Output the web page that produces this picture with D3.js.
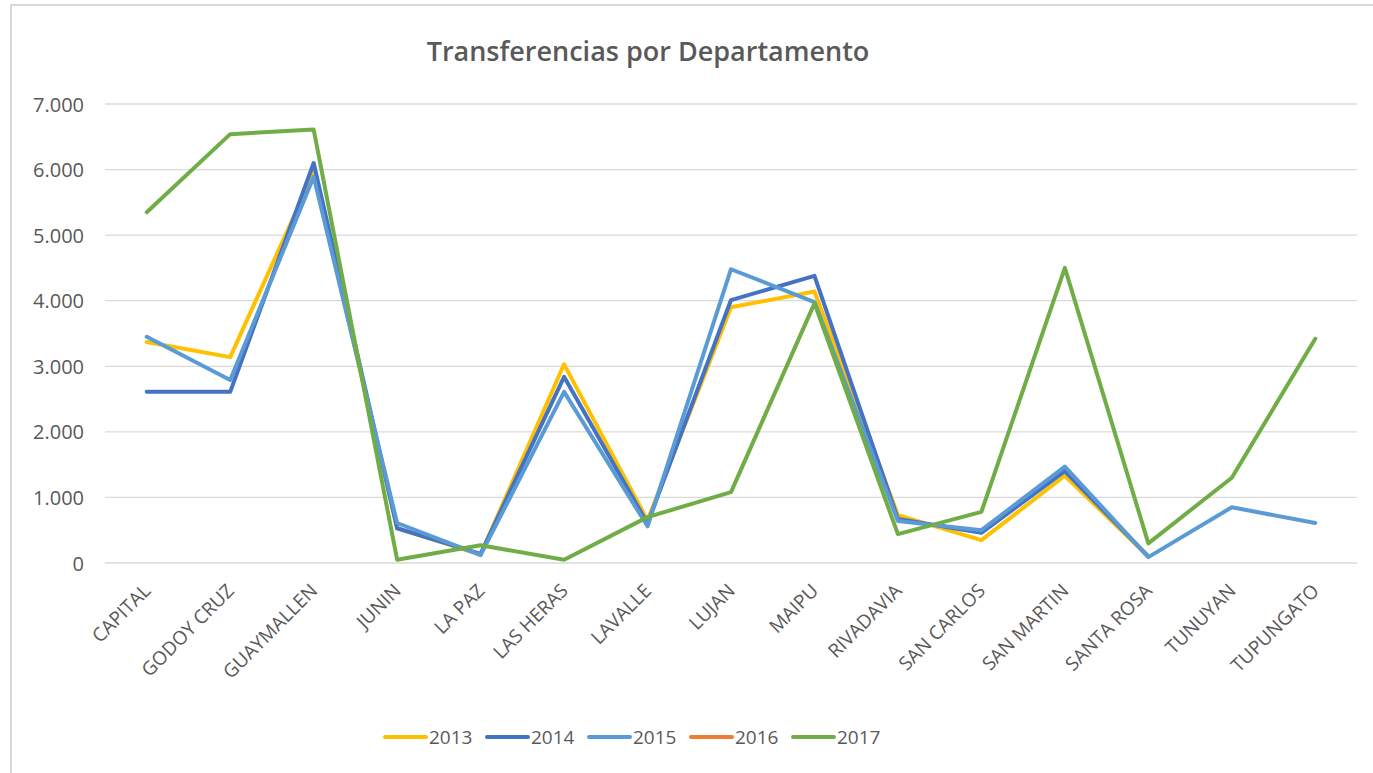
<!DOCTYPE html>
<html>
<head>
<meta charset="utf-8">
<script src="https://cdn.jsdelivr.net/npm/d3@7"></script>
<style>
  body { margin: 0; background: #fff; }
  text { font-family: "Open Sans", "Noto Sans", sans-serif; fill: #595959; }
</style>
</head>
<body>
<div id="chart"></div>
<script>
// data
const departamentos = ["CAPITAL", "GODOY CRUZ", "GUAYMALLEN", "JUNIN", "LA PAZ", "LAS HERAS", "LAVALLE",
    "LUJAN", "MAIPU", "RIVADAVIA", "SAN CARLOS", "SAN MARTIN", "SANTA ROSA", "TUNUYAN", "TUPUNGATO"];
const years = ["2013", "2014", "2015", "2016", "2017"];
const v2013 = [3370, 3140, 5950, 530, 130, 3030, 650, 3900, 4140, 730, 350, 1330, 100, null, null];
const v2014 = [2610, 2610, 6100, 530, 140, 2840, 600, 4010, 4380, 670, 460, 1400, 100, null, null];
const v2015 = [3450, 2790, 5890, 610, 120, 2610, 560, 4480, 3980, 640, 500, 1470, 90, 850, 610];
const v2016 = [null, null, null, null, null, null, null, null, null, null, null, null, null, null, null];
const v2017 = [5350, 6540, 6610, 50, 270, 50, 700, 1080, 3960, 440, 780, 4500, 300, 1300, 3420];
const yTicks = [0, 1000, 2000, 3000, 4000, 5000, 6000, 7000];
const colors = ["#FFC000", "#4472C4", "#5B9BD5", "#ED7D31", "#70AD47"];

const series = [v2013, v2014, v2015, v2016, v2017].map((vals, i) => ({ year: years[i], values: vals, color: colors[i] }));

const width = 1373, height = 773;

const svg = d3.select("#chart")
    .append("svg")
    .attr("width", width)
    .attr("height", height);

// chart frame
svg.append("rect")
    .attr("x", 11).attr("y", 5)
    .attr("width", 1400).attr("height", 800)
    .attr("fill", "#fff")
    .attr("stroke", "#d9d9d9")
    .attr("stroke-width", 2);

svg.append("text")
    .attr("x", 648).attr("y", 61)
    .attr("text-anchor", "middle")
    .style("font-size", "27px")
    .style("font-weight", 600)
    .text("Transferencias por Departamento");

const x = d3.scalePoint()
    .domain(departamentos)
    .range([105, 1357])
    .padding(0.5);

const y = d3.scaleLinear()
    .domain([0, 7000])
    .range([563, 104]);

const locale = d3.formatLocale({ decimal: ",", thousands: ".", grouping: [3], currency: ["$", ""] });
const fmt = locale.format(",d");

// gridlines
svg.append("g")
    .attr("class", "grid")
    .selectAll("line")
    .data(yTicks)
    .join("line")
    .attr("x1", 105).attr("x2", 1357)
    .attr("y1", d => y(d)).attr("y2", d => y(d))
    .attr("stroke", "#d9d9d9")
    .attr("stroke-width", 1.3);

// y axis
const yAxis = svg.append("g")
    .attr("transform", "translate(84,0)")
    .call(d3.axisLeft(y).tickValues(yTicks).tickFormat(fmt).tickSize(0).tickPadding(0));
yAxis.select(".domain").remove();
yAxis.selectAll("text")
    .attr("dy", "0.35em")
    .style("font-size", "20px")
    .style("fill", "#595959");

// x labels
svg.append("g")
    .attr("class", "xlabels")
    .selectAll("text")
    .data(departamentos)
    .join("text")
    .attr("transform", d => "translate(" + (x(d) + 5) + ",592)rotate(-45)")
    .attr("text-anchor", "end")
    .style("font-size", "19px")
    .text(d => d);

const line = d3.line()
    .defined(d => d.v != null)
    .x(d => x(d.cat))
    .y(d => y(d.v));

svg.append("g")
    .attr("class", "lines")
    .selectAll("path")
    .data(series)
    .join("path")
    .attr("d", s => line(s.values.map((v, i) => ({ cat: departamentos[i], v: v }))))
    .attr("fill", "none")
    .attr("stroke", s => s.color)
    .attr("stroke-width", 4)
    .attr("stroke-linejoin", "round")
    .attr("stroke-linecap", "round");

// legend
const legend = svg.append("g")
    .attr("class", "legend")
    .selectAll("g")
    .data(series)
    .join("g")
    .attr("transform", (d, i) => "translate(" + (385 + i * 102) + ",737)");

legend.append("line")
    .attr("x1", 0).attr("x2", 41)
    .attr("stroke", d => d.color)
    .attr("stroke-width", 4)
    .attr("stroke-linecap", "round");

legend.append("text")
    .attr("x", 44).attr("dy", "0.35em")
    .style("font-size", "19px")
    .text(d => d.year);
</script>
</body>
</html>
